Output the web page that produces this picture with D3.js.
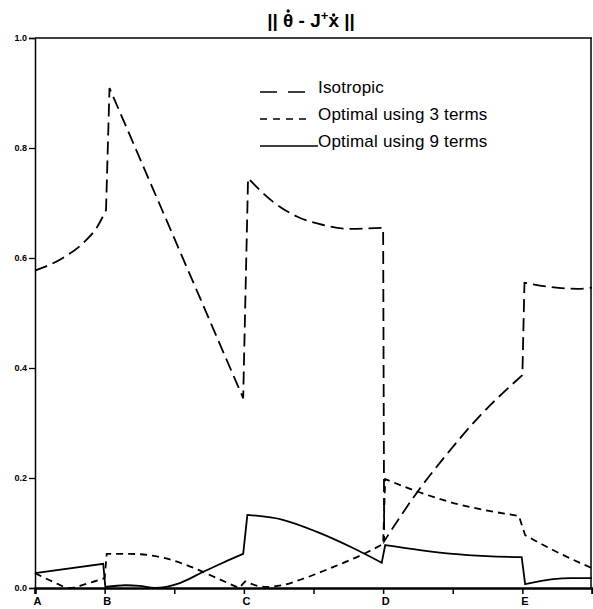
<!DOCTYPE html>
<html>
<head>
<meta charset="utf-8">
<script src="https://cdn.jsdelivr.net/npm/d3@7"></script>
<style>
  body { margin: 0; background: #fff; }
  text { font-family: "Liberation Sans", Arial, sans-serif; }
</style>
</head>
<body>
<script>
// path positions along the trajectory: 0..8, labelled at the via points
var xTicks = [0, 1, 2, 3, 4, 5, 6, 7, 8];
var xTickLabels = ["A", "B", "", "C", "", "D", "", "E", ""];
var yTicks = [0, 0.2, 0.4, 0.6, 0.8, 1.0];

var seriesNames = ["Isotropic", "Optimal using 3 terms", "Optimal using 9 terms"];

// [position, error], one smooth piece per segment,
// pieces are joined by the jumps at the via points
var isotropic = [
  [[0, 0.577], [0.4, 0.6], [0.69, 0.627], [0.89, 0.656], [1.02, 0.687]],
  [[1.07, 0.909], [2.0, 0.636], [2.99, 0.345]],
  [[3.06, 0.745], [3.42, 0.702], [3.77, 0.675], [4.14, 0.66], [4.53, 0.653], [5.0, 0.655]],
  [[5.015, 0.085], [5.5, 0.176], [5.92, 0.244], [6.39, 0.313], [7.0, 0.387]],
  [[7.03, 0.555], [7.42, 0.547], [7.8, 0.544], [8.0, 0.546]]
];

var optimal3 = [
  [[0, 0.027], [0.25, 0.012], [0.5, 0.0], [0.75, 0.008], [1.0, 0.018]],
  [[1.03, 0.062], [1.37, 0.062], [1.84, 0.055], [2.23, 0.039], [2.61, 0.018], [2.93, 0.0]],
  [[3.02, 0.012], [3.3, 0.002], [3.55, 0.005], [3.81, 0.015], [4.28, 0.038], [4.77, 0.065], [5.0, 0.08]],
  [[5.03, 0.198], [5.5, 0.175], [5.97, 0.156], [6.45, 0.142], [6.95, 0.131]],
  [[7.04, 0.096], [7.44, 0.069], [8.0, 0.036]]
];

var optimal9 = [
  [[0, 0.027], [0.98, 0.044]],
  [[1.01, 0.002], [1.3, 0.005], [1.5, 0.004], [1.72, 0.0], [2.08, 0.009], [2.41, 0.029], [2.7, 0.046], [2.99, 0.062]],
  [[3.05, 0.133], [3.56, 0.124], [4.05, 0.102], [4.53, 0.075], [4.98, 0.046]],
  [[5.03, 0.078], [5.53, 0.069], [6.0, 0.062], [6.49, 0.058], [6.99, 0.056]],
  [[7.04, 0.007], [7.44, 0.016], [7.69, 0.018], [8.0, 0.018]]
];

var svgWidth = 593;
var svgHeight = 609;

var svg = d3.select("body")
  .append("svg")
  .attr("width", svgWidth)
  .attr("height", svgHeight);

var x = d3.scaleLinear().domain([0, 8]).range([35, 592]);
var y = d3.scaleLinear().domain([0, 1]).range([588, 38]);

// title: || θ̇ - J⁺ẋ ||  (dots placed over θ and x by hand)
var title = svg.append("text")
  .attr("x", 311)
  .attr("y", 27)
  .attr("text-anchor", "middle")
  .style("font-size", "19px")
  .style("font-weight", "bold");
title.append("tspan").text("|| \u03B8 - J");
title.append("tspan").attr("dy", -7).style("font-size", "13px").text("+");
title.append("tspan").attr("dy", 7).text("x ||");

var titleNode = title.node();
[3, 9].forEach(function (idx) {
  var box = titleNode.getExtentOfChar(idx);
  var top = idx == 3 ? box.y + 2 : box.y + 6;
  svg.append("circle")
    .attr("cx", box.x + box.width / 2)
    .attr("cy", top - 1)
    .attr("r", 1.7)
    .attr("fill", "#000");
});

// frame (top and right)
svg.append("line")
  .attr("x1", x(0)).attr("x2", x(8))
  .attr("y1", y(1)).attr("y2", y(1))
  .attr("stroke", "#000").attr("stroke-width", 1.5);
svg.append("line")
  .attr("x1", x(8) - 1).attr("x2", x(8) - 1)
  .attr("y1", y(1)).attr("y2", y(0))
  .attr("stroke", "#000").attr("stroke-width", 1.5);

var leftAxis = d3.axisLeft(y)
  .tickValues(yTicks)
  .tickFormat(d3.format(".1f"))
  .tickSizeOuter(0)
  .tickSize(6)
  .tickPadding(2);

var yAxis = svg.append("g")
  .attr("transform", "translate(" + x(0) + ",0)")
  .call(leftAxis);
yAxis.select(".domain").attr("stroke-width", 1.5);
yAxis.selectAll("line").attr("stroke-width", 1.3);
yAxis.selectAll("text")
  .style("font-size", "9px")
  .style("font-weight", "bold")
  .attr("font-family", null);

var bottomAxis = d3.axisBottom(x)
  .tickValues(xTicks)
  .tickFormat(function (d, i) { return xTickLabels[i]; })
  .tickSizeOuter(0)
  .tickSize(6)
  .tickPadding(3);

var xAxis = svg.append("g")
  .attr("transform", "translate(0," + y(0) + ")")
  .call(bottomAxis);
xAxis.select(".domain").attr("stroke-width", 2.5);
xAxis.selectAll("line").attr("stroke-width", 1.5);
xAxis.selectAll("text")
  .attr("dx", 2)
  .style("font-size", "11px")
  .style("font-weight", "bold")
  .attr("font-family", null);

var drawPiece = d3.line()
  .curve(d3.curveMonotoneX)
  .x(function (d) { return x(d[0]); })
  .y(function (d) { return y(d[1]); });

// join the smooth pieces into one path so the jumps are straight strokes
function seriesPath(pieces) {
  return pieces.map(function (p, i) {
    var d = drawPiece(p);
    return i == 0 ? d : "L" + d.slice(1);
  }).join("");
}

var dashes = ["13,6", "7,5", null];
var allSeries = [isotropic, optimal3, optimal9];

allSeries.forEach(function (data, i) {
  svg.append("path")
    .attr("d", seriesPath(data))
    .attr("fill", "none")
    .attr("stroke", "#000")
    .attr("stroke-width", 1.8)
    .attr("stroke-linejoin", "miter")
    .attr("stroke-dasharray", dashes[i]);
});

// legend
var legendY = [93, 120, 147];
var legendDash = ["17,11", "7,6", null];
var legendEnd = [310, 310, 318];

seriesNames.forEach(function (name, i) {
  svg.append("line")
    .attr("x1", 260).attr("x2", legendEnd[i])
    .attr("y1", legendY[i] - 1).attr("y2", legendY[i] - 1)
    .attr("stroke", "#000")
    .attr("stroke-width", 1.6)
    .attr("stroke-dasharray", legendDash[i]);
  svg.append("text")
    .attr("x", 318)
    .attr("y", legendY[i])
    .style("font-size", "17px")
    .style("letter-spacing", "0.2px")
    .text(name);
});
</script>
</body>
</html>
